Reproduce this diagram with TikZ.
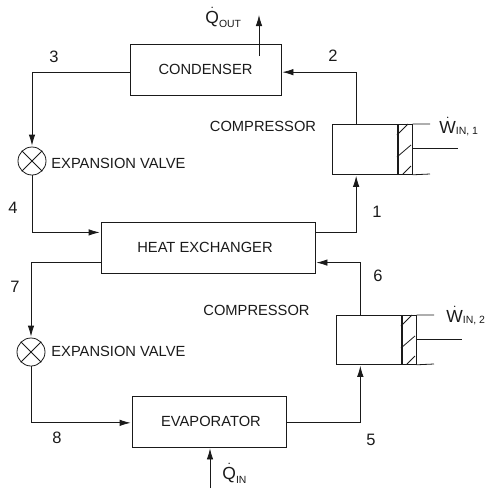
\documentclass[tikz,border=0pt]{standalone}
\usepackage{fontspec}
\setmainfont{Liberation Sans}
\usepackage{tikz}
\usetikzlibrary{arrows.meta,calc,positioning}
\definecolor{ink}{HTML}{1A1A1A}
\begin{document}
\begin{tikzpicture}[x=1pt,y=-1pt,line width=.8pt,draw=ink,text=ink,
  box/.style={draw,rectangle,inner sep=0pt,font=\fontsize{14.7}{16}\selectfont},
  valve/.style={draw,circle,minimum size=28pt,inner sep=0pt},
  chamber/.style={draw,rectangle,inner sep=0pt,minimum width=65pt},
  piston/.style={draw,rectangle,inner sep=0pt,minimum width=14pt},
  flow/.style={-{Latex[length=11pt,width=6.5pt]},shorten >=1pt},
  lbl/.style={font=\fontsize{14.7}{16}\selectfont},
  statenum/.style={font=\fontsize{16.5}{18}\selectfont},
  rate/.style={anchor=base west,inner sep=0pt,font=\fontsize{17.5}{19}\selectfont}]
  \useasboundingbox (0,0) rectangle (485,491);
  % boxes
  \node[box,minimum width=151pt,minimum height=51pt] (condenser) at (205.5,69.5) {\raisebox{-3.5pt}{CONDENSER}};
  \node[box,minimum width=214pt,minimum height=51pt] (hx) at (208,247.5) {HEAT EXCHANGER\hspace*{6pt}};
  \node[box,minimum width=154pt,minimum height=51pt] (evap) at (209,421.5) {\hspace*{4pt}EVAPORATOR};
  % valves
  \node[valve] (valvea) at (32,161) {};
  \node[valve] (valveb) at (31,352) {};
  \foreach \v in {valvea,valveb} {
    \draw (\v.45)--(\v.225) (\v.135)--(\v.315);
  }
  % compressors
  \foreach \n/\x/\y/\h in {a/332/124/50,b/336/315/49} {
    \node[chamber,minimum height=\h pt,anchor=north west] (comp\n) at (\x,\y) {};
    \node[piston,minimum height=\h pt,anchor=north west] (piston\n) at (comp\n.north east) {};
    \coordinate (top\n) at (\x+98,\y);
    \coordinate (bot\n) at (\x+98,\y+\h);
    \coordinate (rod\n) at (\x+126,\y+24);
    \draw (piston\n.north east)--(top\n) (piston\n.south east)--(bot\n);
    \draw (piston\n.east |- rod\n)--(rod\n);
    \draw (\x+65,\y+11)--(\x+76,\y) (\x+65,\y+33)--(\x+79,\y+21) (\x+71,\y+\h)--(\x+79,\y+\h-8);
  }
  % cycle
  \draw[flow] (compa.109) |- (condenser.-2);
  \draw[flow] (condenser.182) -| (valvea.north);
  \draw[flow] (valvea.south) |- (hx.172);
  \draw[flow] (hx.8) -| (compa.251);
  \draw[flow] (compb.109) |- (hx.-8);
  \draw[flow] (hx.188) -| (valveb.north);
  \draw[flow] (valveb.south) |- (evap.181);
  \draw[flow] (evap.-1) -| (compb.251);
  % heat
  \coordinate (qoutA) at (259,56);
  \coordinate (qoutB) at (259,15);
  \coordinate (qinA) at (210,488);
  \draw[flow,shorten >=0pt] (qoutA)--(qoutB);
  \draw[flow] (qinA)--(qinA |- evap.south);
  % labels
  \node[lbl,anchor=west,inner sep=0pt] (lblvalvea) at (51,163) {EXPANSION VALVE};
  \node[lbl,anchor=west,inner sep=0pt] (lblvalveb) at (51,351) {EXPANSION VALVE};
  \node[lbl,inner sep=0pt] (lblcompa) at (263,126) {COMPRESSOR};
  \node[lbl,inner sep=0pt] (lblcompb) at (256.5,310) {COMPRESSOR};
  \node[statenum] (s1) at (377,212) {1};
  \node[statenum] (s2) at (333,56) {2};
  \node[statenum] (s3) at (54,57) {3};
  \node[statenum] (s4) at (13,208) {4};
  \node[statenum] (s5) at (371,440) {5};
  \node[statenum] (s6) at (378,276) {6};
  \node[statenum] (s7) at (15,287) {7};
  \node[statenum] (s8) at (57,438) {8};
  \node[rate] (qout) at (205,23) {$\dot{\mathrm{Q}}$\raisebox{-4pt}{\fontsize{10.4}{12}\selectfont OUT}};
  \node[rate] (qin) at (222,479) {$\dot{\mathrm{Q}}$\raisebox{-4pt}{\fontsize{10.4}{12}\selectfont IN}};
  \node[rate] (wa) at (439,133) {$\dot{\mathrm{W}}$\raisebox{-1.5pt}{\fontsize{10.5}{12}\selectfont IN, 1}};
  \node[rate] (wb) at (446,322) {$\dot{\mathrm{W}}$\raisebox{-1.5pt}{\fontsize{10.5}{12}\selectfont IN, 2}};
\end{tikzpicture}
\end{document}
